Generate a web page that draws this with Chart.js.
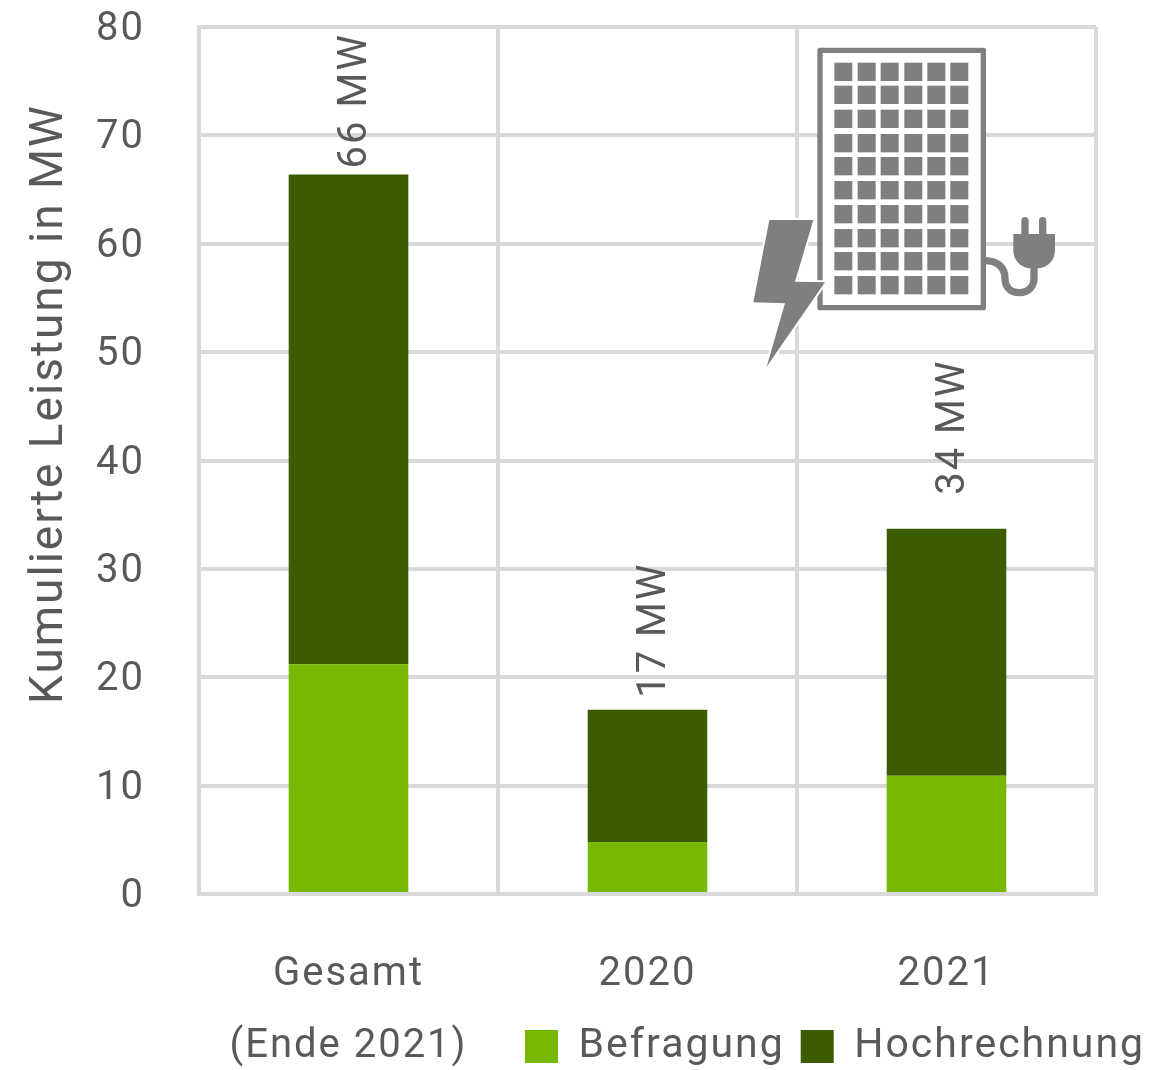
<!DOCTYPE html>
<html lang="de">
<head>
<meta charset="utf-8">
<title>Kumulierte Leistung</title>
<script src="https://cdn.jsdelivr.net/npm/chart.js@4"></script>
<style>
    html, body { margin: 0; padding: 0; background: #fff; }
    canvas { display: block; }
</style>
</head>
<body>
<canvas id="barChartLeistung" width="1160" height="1070"></canvas>
<script>
var categories = [['Gesamt', '(Ende 2021)'], '2020', '2021']
var befragung = [21.2, 4.8, 10.9]
var hochrechnung = [45.2, 12.2, 22.8]
var totalLabelGap = [6, 12, 34]

var textColor = '#595959'
var gridColor = '#d9d9d9'
var iconColor = '#7f7f7f'
var fontName = 'Roboto, sans-serif'
var axisTitle = 'Kumulierte Leistung in MW'

// small solar panel with plug and lightning bolt, top right of the plot
var panelCols = [283, 353, 422, 493, 562, 631]
var panelRows = [98, 167, 239, 312, 381, 453, 525, 597, 666, 738]

function drawPanelIcon(ctx) {
    ctx.save()
    ctx.translate(740, 30)
    ctx.scale(1 / 3, 1 / 3)
    ctx.fillStyle = '#fff'
    ctx.strokeStyle = iconColor
    ctx.lineWidth = 16
    ctx.lineJoin = 'round'
    ctx.beginPath()
    ctx.rect(240, 61, 490, 772)
    ctx.fill()
    ctx.stroke()

    ctx.fillStyle = iconColor
    panelRows.forEach(function (y) {
        panelCols.forEach(function (x) {
            ctx.fillRect(x, y, 54, 55)
        })
    })

    // cable
    ctx.lineWidth = 22
    ctx.stroke(new Path2D('M735 692 C775 692 795 715 795 745 C795 775 815 788 838 788 C865 788 882 770 882 745 L882 700'))

    // plug
    ctx.fill(new Path2D('M820 612 L945 612 L945 660 C945 690 925 712 895 715 L870 715 C840 712 820 690 820 660 Z'))
    ctx.fill(new Path2D('M844 620 L844 572 A11 11 0 0 1 866 572 L866 620 Z M897 620 L897 572 A11 11 0 0 1 919 572 L919 620 Z'))

    // bolt, white edge keeps it apart from the frame
    var bolt = new Path2D('M88 570 L220 570 L165 755 L255 757 L80 1010 L135 820 L40 817 Z')
    ctx.strokeStyle = '#fff'
    ctx.lineWidth = 12
    ctx.stroke(bolt)
    ctx.fill(bolt)
    ctx.restore()
}

var panelIconPlugin = {
    id: 'panelIcon',
    afterDatasetsDraw: function (chart) {
        drawPanelIcon(chart.ctx)
    }
}

// sum of the stack written vertically above each bar
var totalLabelsPlugin = {
    id: 'totalLabels',
    afterDatasetsDraw: function (chart) {
        var ctx = chart.ctx
        var bars = chart.getDatasetMeta(1).data
        ctx.save()
        ctx.font = '40px ' + fontName
        ctx.fillStyle = textColor
        ctx.textAlign = 'left'
        ctx.textBaseline = 'middle'
        bars.forEach(function (bar, i) {
            var total = Math.round(befragung[i] + hochrechnung[i])
            ctx.save()
            ctx.translate(bar.x + 7, bar.y - totalLabelGap[i])
            ctx.rotate(-Math.PI / 2)
            ctx.fillText(total + ' MW', 0, 0)
            ctx.restore()
        })
        ctx.restore()
    }
}

// y axis title sits off centre, so it is written here and not by the scale
var axisTitlePlugin = {
    id: 'axisTitle',
    afterDraw: function (chart) {
        var ctx = chart.ctx
        ctx.save()
        ctx.font = '46px ' + fontName
        ctx.fillStyle = textColor
        ctx.textAlign = 'center'
        ctx.textBaseline = 'middle'
        ctx.translate(50, 404)
        ctx.rotate(-Math.PI / 2)
        ctx.fillText(axisTitle, 0, 0)
        ctx.restore()
    }
}

// wider text, and the legend moved up beside the second x label line
var layoutPlugin = {
    id: 'layoutTweaks',
    beforeUpdate: function (chart) {
        chart.ctx.letterSpacing = '2px'
    },
    afterLayout: function (chart) {
        chart.legend.left = 509
        chart.legend.right = 1200
        chart.legend.top = 1010
        // labels are clipped to the scale box, let them use the full height
        chart.scales.x.bottom = 1070
    }
}

function loadLeistungBarChart() {
    var barChartCanvas = document.getElementById('barChartLeistung').getContext('2d')

    var barChartData = {
        labels: categories,
        datasets: [
            { label: 'Befragung', data: befragung, backgroundColor: '#76b900' },
            { label: 'Hochrechnung', data: hochrechnung, backgroundColor: '#3c5c00' }
        ]
    }

    var barChartOptions = {
        responsive: false,
        animation: false,
        layout: { padding: { top: 27, left: 0, right: 64, bottom: 0 } },
        datasets: { bar: { barPercentage: 0.4, categoryPercentage: 1 } },
        plugins: {
            tooltip: { enabled: false },
            legend: {
                position: 'bottom',
                align: 'start',
                labels: {
                    boxWidth: 33,
                    boxHeight: 33,
                    padding: 16,
                    color: textColor,
                    font: { family: fontName, size: 41 }
                }
            }
        },
        scales: {
            x: {
                stacked: true,
                grid: { color: gridColor, lineWidth: 4, drawTicks: false },
                border: { color: gridColor, width: 4 },
                ticks: {
                    color: textColor,
                    maxRotation: 0,
                    padding: 45,
                    font: { family: fontName, size: 40, lineHeight: 1.8 }
                },
                afterFit: function (scale) {
                    scale.height = 176 - scale.chart.legend.height
                    scale.paddingLeft = 0
                    scale.paddingRight = 0
                }
            },
            y: {
                stacked: true,
                min: 0,
                max: 80,
                grid: { color: gridColor, lineWidth: 4, drawTicks: false },
                border: { color: gridColor, width: 4 },
                ticks: {
                    stepSize: 10,
                    color: textColor,
                    padding: 54,
                    labelOffset: 3,
                    font: { family: fontName, size: 40 }
                },
                afterFit: function (scale) {
                    scale.width = 199
                    scale.paddingTop = 0
                    scale.paddingBottom = 0
                }
            }
        }
    }

    new Chart(barChartCanvas, {
        type: 'bar',
        data: barChartData,
        options: barChartOptions,
        plugins: [layoutPlugin, totalLabelsPlugin, panelIconPlugin, axisTitlePlugin]
    })
}

loadLeistungBarChart()
</script>
</body>
</html>
